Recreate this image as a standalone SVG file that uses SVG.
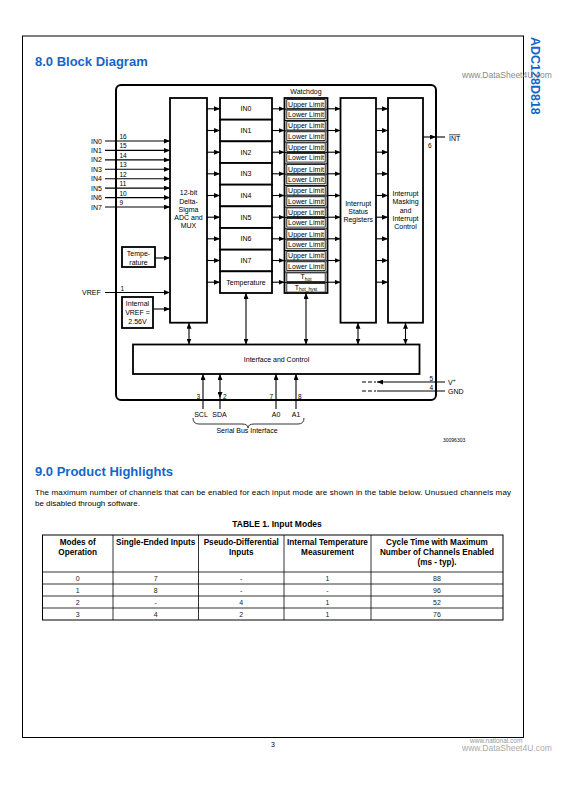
<svg xmlns="http://www.w3.org/2000/svg" width="586" height="785" viewBox="0 0 586 785">
<style>
text{font-family:"Liberation Sans",Arial,sans-serif;fill:#000}
.b{fill:#fff;stroke:#000;stroke-width:1.8}
.thin{fill:#fff;stroke:#000;stroke-width:0.8}
.c{stroke:#000;stroke-width:1.1;fill:none}
.a{marker-end:url(#ah)}
.d{marker-start:url(#ah);marker-end:url(#ah)}
.t7{font-size:7px;text-anchor:middle}
.pin{font-size:6.5px}
.lbl{font-size:7px}
.h{font-size:13px;font-weight:bold;fill:#1565c8}
.th{font-size:8.2px;font-weight:bold;text-anchor:middle}
.td{font-size:7px;text-anchor:middle;fill:#222}
.tl{stroke:#000;stroke-width:0.8}
</style>
<defs>
<marker id="ah" viewBox="0 0 6 5" refX="6" refY="2.5" markerWidth="6" markerHeight="5" markerUnits="userSpaceOnUse" orient="auto-start-reverse">
<path d="M0,0 L6,2.5 L0,5 z" fill="#000"/>
</marker>
</defs>
<rect width="586" height="785" fill="#fff"/>

<g id="page">
<rect x="22.5" y="36" width="501" height="701.5" fill="none" stroke="#000" stroke-width="1"/>
<text x="35" y="65.5" class="h">8.0 Block Diagram</text>
<text transform="translate(531,37) rotate(90)" style="font-size:12.5px;font-weight:bold;fill:#1565c8">ADC128D818</text>
<text x="462" y="78" style="font-size:8.5px;fill:#8a8a8a">www.DataSheet4U.com</text>
<text x="35" y="475.5" class="h">9.0 Product Highlights</text>
<text x="35" y="494.5" style="font-size:8px" textLength="476" lengthAdjust="spacing">The maximum number of channels that can be enabled for each input mode are shown in the table below. Unusued channels may</text>
<text x="35" y="505.5" style="font-size:8px">be disabled through software.</text>
<text x="443" y="442" style="font-size:5px">30096303</text>
<text x="273" y="747" style="font-size:7px;text-anchor:middle">3</text>
<text x="470" y="743" style="font-size:6.5px;fill:#999">www.national.com</text>
<text x="462" y="751" style="font-size:8.5px;fill:#aaa">www.DataSheet4U.com</text>
</g>

<g id="outer">
<rect x="116" y="85" width="320" height="315" rx="5" fill="none" stroke="#000" stroke-width="2"/>
</g>

<g id="adc">
<rect class="b" x="170" y="98" width="37" height="224.7"/>
<text class="t7" x="188.5" y="195.2">12-bit</text>
<text class="t7" x="188.5" y="203.5">Delta-</text>
<text class="t7" x="188.5" y="211.8">Sigma</text>
<text class="t7" x="188.5" y="220.1">ADC and</text>
<text class="t7" x="188.5" y="228.4">MUX</text>
</g>

<g id="temperature-sensor">
<rect class="b" x="122" y="247" width="33" height="20"/>
<text class="t7" x="138.5" y="255.5">Tempe-</text>
<text class="t7" x="138.5" y="264.5">rature</text>
</g>

<g id="internal-vref">
<rect class="b" x="122" y="297" width="31" height="31"/>
<text class="t7" x="137.5" y="306">Internal</text>
<text class="t7" x="137.5" y="315">VREF =</text>
<text class="t7" x="137.5" y="324">2.56V</text>
</g>

<g id="channel-registers">
<rect class="b" x="220" y="98" width="52" height="21.67"/>
<rect class="b" x="220" y="119.67" width="52" height="21.67"/>
<rect class="b" x="220" y="141.33" width="52" height="21.67"/>
<rect class="b" x="220" y="163" width="52" height="21.67"/>
<rect class="b" x="220" y="184.67" width="52" height="21.67"/>
<rect class="b" x="220" y="206.33" width="52" height="21.67"/>
<rect class="b" x="220" y="228" width="52" height="21.67"/>
<rect class="b" x="220" y="249.67" width="52" height="21.67"/>
<rect class="b" x="220" y="271.33" width="52" height="21.67"/>
<text class="t7" x="246" y="111.3">IN0</text>
<text class="t7" x="246" y="133">IN1</text>
<text class="t7" x="246" y="154.7">IN2</text>
<text class="t7" x="246" y="176.3">IN3</text>
<text class="t7" x="246" y="198">IN4</text>
<text class="t7" x="246" y="219.7">IN5</text>
<text class="t7" x="246" y="241.3">IN6</text>
<text class="t7" x="246" y="263">IN7</text>
<text class="t7" x="246" y="284.7">Temperature</text>
</g>

<g id="watchdog">
<text class="t7" x="306" y="94.3">Watchdog</text>
<rect class="b" x="284.5" y="98" width="43" height="195"/>
<g class="thin">
<rect x="286.8" y="99.6" width="38.4" height="8.7"/><rect x="286.8" y="110.1" width="38.4" height="8.7"/>
<rect x="286.8" y="121.3" width="38.4" height="8.7"/><rect x="286.8" y="131.8" width="38.4" height="8.7"/>
<rect x="286.8" y="142.9" width="38.4" height="8.7"/><rect x="286.8" y="153.4" width="38.4" height="8.7"/>
<rect x="286.8" y="164.6" width="38.4" height="8.7"/><rect x="286.8" y="175.1" width="38.4" height="8.7"/>
<rect x="286.8" y="186.3" width="38.4" height="8.7"/><rect x="286.8" y="196.8" width="38.4" height="8.7"/>
<rect x="286.8" y="207.9" width="38.4" height="8.7"/><rect x="286.8" y="218.4" width="38.4" height="8.7"/>
<rect x="286.8" y="229.6" width="38.4" height="8.7"/><rect x="286.8" y="240.1" width="38.4" height="8.7"/>
<rect x="286.8" y="251.3" width="38.4" height="8.7"/><rect x="286.8" y="261.8" width="38.4" height="8.7"/>
<rect x="286.8" y="272.9" width="38.4" height="8.7"/><rect x="286.8" y="283.4" width="38.4" height="8.7"/>
</g>
<g stroke="#000" stroke-width="0.9">
<line x1="284.5" y1="109.2" x2="327.5" y2="109.2"/><line x1="284.5" y1="120.5" x2="327.5" y2="120.5"/>
<line x1="284.5" y1="130.9" x2="327.5" y2="130.9"/><line x1="284.5" y1="142.1" x2="327.5" y2="142.1"/>
<line x1="284.5" y1="152.5" x2="327.5" y2="152.5"/><line x1="284.5" y1="163.8" x2="327.5" y2="163.8"/>
<line x1="284.5" y1="174.2" x2="327.5" y2="174.2"/><line x1="284.5" y1="185.5" x2="327.5" y2="185.5"/>
<line x1="284.5" y1="195.9" x2="327.5" y2="195.9"/><line x1="284.5" y1="207.1" x2="327.5" y2="207.1"/>
<line x1="284.5" y1="217.5" x2="327.5" y2="217.5"/><line x1="284.5" y1="228.8" x2="327.5" y2="228.8"/>
<line x1="284.5" y1="239.2" x2="327.5" y2="239.2"/><line x1="284.5" y1="250.5" x2="327.5" y2="250.5"/>
<line x1="284.5" y1="260.9" x2="327.5" y2="260.9"/><line x1="284.5" y1="272.1" x2="327.5" y2="272.1"/>
<line x1="284.5" y1="282.5" x2="327.5" y2="282.5"/>
</g>
<g class="t7">
<text x="306" y="106.5">Upper Limit</text><text x="306" y="117">Lower Limit</text>
<text x="306" y="128.2">Upper Limit</text><text x="306" y="138.7">Lower Limit</text>
<text x="306" y="149.8">Upper Limit</text><text x="306" y="160.3">Lower Limit</text>
<text x="306" y="171.5">Upper Limit</text><text x="306" y="182">Lower Limit</text>
<text x="306" y="193.2">Upper Limit</text><text x="306" y="203.7">Lower Limit</text>
<text x="306" y="214.8">Upper Limit</text><text x="306" y="225.3">Lower Limit</text>
<text x="306" y="236.5">Upper Limit</text><text x="306" y="247">Lower Limit</text>
<text x="306" y="258.2">Upper Limit</text><text x="306" y="268.7">Lower Limit</text>
<text x="306" y="279">T<tspan font-size="4.8" dy="1.5">hot</tspan></text>
<text x="306" y="289.5">T<tspan font-size="4.8" dy="1.5">hot_hyst</tspan></text>
</g>
</g>

<g id="interrupt-status">
<rect class="b" x="340.5" y="98" width="35.5" height="224.7"/>
<text class="t7" x="358.2" y="205.7">Interrupt</text>
<text class="t7" x="358.2" y="213.7">Status</text>
<text class="t7" x="358.2" y="221.7">Registers</text>
</g>

<g id="interrupt-masking">
<rect class="b" x="388" y="98" width="35" height="224.7"/>
<text class="t7" x="405.5" y="195.8">Interrupt</text>
<text class="t7" x="405.5" y="204.2">Masking</text>
<text class="t7" x="405.5" y="212.5">and</text>
<text class="t7" x="405.5" y="220.8">Interrupt</text>
<text class="t7" x="405.5" y="229.2">Control</text>
</g>

<g id="interface-control">
<rect class="b" x="133" y="344.5" width="286.5" height="29.5"/>
<text class="t7" x="276.5" y="361.8">Interface and Control</text>
</g>

<g id="pins">
<g class="lbl">
<text x="91" y="143.5">IN0</text><text x="91" y="152.9">IN1</text><text x="91" y="162.3">IN2</text><text x="91" y="171.8">IN3</text>
<text x="91" y="181.2">IN4</text><text x="91" y="190.6">IN5</text><text x="91" y="200">IN6</text><text x="91" y="209.5">IN7</text>
<text x="82" y="295">VREF</text>
<text x="449" y="140.5"><tspan style="text-decoration:overline">INT</tspan></text>
<text x="448" y="385">V<tspan font-size="5" dy="-3">+</tspan></text>
<text x="448" y="394">GND</text>
<text x="201" y="416.5" text-anchor="middle">SCL</text>
<text x="219.5" y="416.5" text-anchor="middle">SDA</text>
<text x="276" y="416.5" text-anchor="middle">A0</text>
<text x="296" y="416.5" text-anchor="middle">A1</text>
<text x="247" y="432.5" text-anchor="middle">Serial Bus Interface</text>
</g>
<g class="pin">
<text x="119.5" y="139">16</text><text x="119.5" y="148.4">15</text><text x="119.5" y="157.8">14</text><text x="119.5" y="167.3">13</text>
<text x="119.5" y="176.7">12</text><text x="119.5" y="186.1">11</text><text x="119.5" y="195.5">10</text><text x="119.5" y="205">9</text>
<text x="120.5" y="290.5">1</text>
<text x="428" y="147.5">6</text>
<text x="429.5" y="380.5">5</text>
<text x="429.5" y="389.5">4</text>
<text x="196.5" y="398.5">3</text>
<text x="223" y="398.5">2</text>
<text x="269.5" y="398.5">7</text>
<text x="298" y="398.5">8</text>
</g>
<path d="M193,418 Q193,424 199,424 L242,424 Q248,424 248,428 Q248,424 254,424 L298,424 Q304,424 304,418" fill="none" stroke="#000" stroke-width="0.8"/>
</g>

<g id="connectors">
<g class="c a">
<line x1="105" y1="141" x2="170" y2="141"/><line x1="105" y1="150.4" x2="170" y2="150.4"/>
<line x1="105" y1="159.9" x2="170" y2="159.9"/><line x1="105" y1="169.3" x2="170" y2="169.3"/>
<line x1="105" y1="178.7" x2="170" y2="178.7"/><line x1="105" y1="188.1" x2="170" y2="188.1"/>
<line x1="105" y1="197.6" x2="170" y2="197.6"/><line x1="105" y1="207" x2="170" y2="207"/>
<line x1="105" y1="292.5" x2="170" y2="292.5"/>
<line x1="155" y1="258" x2="170" y2="258"/>
<line x1="153" y1="309" x2="170" y2="309"/>
</g>
<g class="c a">
<line x1="207" y1="108.8" x2="220" y2="108.8"/><line x1="207" y1="130.5" x2="220" y2="130.5"/>
<line x1="207" y1="152.2" x2="220" y2="152.2"/><line x1="207" y1="173.8" x2="220" y2="173.8"/>
<line x1="207" y1="195.5" x2="220" y2="195.5"/><line x1="207" y1="217.2" x2="220" y2="217.2"/>
<line x1="207" y1="238.8" x2="220" y2="238.8"/><line x1="207" y1="260.5" x2="220" y2="260.5"/>
<line x1="207" y1="282.2" x2="220" y2="282.2"/>
</g>
<g class="c a">
<line x1="272" y1="108.8" x2="284.5" y2="108.8"/><line x1="272" y1="130.5" x2="284.5" y2="130.5"/>
<line x1="272" y1="152.2" x2="284.5" y2="152.2"/><line x1="272" y1="173.8" x2="284.5" y2="173.8"/>
<line x1="272" y1="195.5" x2="284.5" y2="195.5"/><line x1="272" y1="217.2" x2="284.5" y2="217.2"/>
<line x1="272" y1="238.8" x2="284.5" y2="238.8"/><line x1="272" y1="260.5" x2="284.5" y2="260.5"/>
<line x1="272" y1="282.2" x2="284.5" y2="282.2"/>
</g>
<g class="c a">
<line x1="327.5" y1="108.8" x2="340.5" y2="108.8"/><line x1="327.5" y1="130.5" x2="340.5" y2="130.5"/>
<line x1="327.5" y1="152.2" x2="340.5" y2="152.2"/><line x1="327.5" y1="173.8" x2="340.5" y2="173.8"/>
<line x1="327.5" y1="195.5" x2="340.5" y2="195.5"/><line x1="327.5" y1="217.2" x2="340.5" y2="217.2"/>
<line x1="327.5" y1="238.8" x2="340.5" y2="238.8"/><line x1="327.5" y1="260.5" x2="340.5" y2="260.5"/>
<line x1="327.5" y1="282.2" x2="340.5" y2="282.2"/>
</g>
<g class="c a">
<line x1="376" y1="108.8" x2="388" y2="108.8"/><line x1="376" y1="130.5" x2="388" y2="130.5"/>
<line x1="376" y1="152.2" x2="388" y2="152.2"/><line x1="376" y1="173.8" x2="388" y2="173.8"/>
<line x1="376" y1="195.5" x2="388" y2="195.5"/><line x1="376" y1="217.2" x2="388" y2="217.2"/>
<line x1="376" y1="238.8" x2="388" y2="238.8"/><line x1="376" y1="260.5" x2="388" y2="260.5"/>
<line x1="376" y1="282.2" x2="388" y2="282.2"/>
</g>
<line class="c a" x1="423" y1="137" x2="436" y2="137"/>
<line class="c" x1="436" y1="137" x2="445" y2="137"/>
<g class="c d">
<line x1="189" y1="322.7" x2="189" y2="344.5"/>
<line x1="246" y1="293" x2="246" y2="344.5"/>
<line x1="306" y1="293" x2="306" y2="344.5"/>
<line x1="358" y1="322.7" x2="358" y2="344.5"/>
<line x1="405.5" y1="322.7" x2="405.5" y2="344.5"/>
<line x1="220" y1="398" x2="220" y2="374"/>
</g>
<g class="c a">
<line x1="203" y1="409" x2="203" y2="374"/>
<line x1="276" y1="409" x2="276" y2="374"/>
<line x1="296" y1="409" x2="296" y2="374"/>
<line x1="445" y1="382" x2="377" y2="382"/>
</g>
<line class="c" x1="220" y1="398" x2="220" y2="409"/>
<line class="c" x1="377" y1="391" x2="445" y2="391"/>
<line class="c" x1="362" y1="382" x2="376" y2="382" stroke-dasharray="4,2"/>
<line class="c" x1="362" y1="391" x2="376" y2="391" stroke-dasharray="4,2"/>
</g>

<g id="table">
<text x="277" y="527" style="font-size:8.5px;font-weight:bold;text-anchor:middle">TABLE 1. Input Modes</text>
<rect x="42.5" y="535" width="460.5" height="85" fill="none" stroke="#000" stroke-width="1"/>
<line class="tl" x1="113" y1="535" x2="113" y2="620"/>
<line class="tl" x1="198.5" y1="535" x2="198.5" y2="620"/>
<line class="tl" x1="284" y1="535" x2="284" y2="620"/>
<line class="tl" x1="371" y1="535" x2="371" y2="620"/>
<line class="tl" x1="42.5" y1="572" x2="503" y2="572"/>
<line class="tl" x1="42.5" y1="584" x2="503" y2="584"/>
<line class="tl" x1="42.5" y1="596" x2="503" y2="596"/>
<line class="tl" x1="42.5" y1="608" x2="503" y2="608"/>
<text class="th" x="77.7" y="545">Modes of</text>
<text class="th" x="77.7" y="555">Operation</text>
<text class="th" x="155.7" y="545">Single-Ended Inputs</text>
<text class="th" x="241.2" y="545">Pseudo-Differential</text>
<text class="th" x="241.2" y="555">Inputs</text>
<text class="th" x="327.5" y="545">Internal Temperature</text>
<text class="th" x="327.5" y="555">Measurement</text>
<text class="th" x="437" y="545">Cycle Time with Maximum</text>
<text class="th" x="437" y="555">Number of Channels Enabled</text>
<text class="th" x="437" y="565">(ms - typ).</text>
<text class="td" x="77.7" y="580.5">0</text><text class="td" x="155.7" y="580.5">7</text><text class="td" x="241.2" y="580.5">-</text><text class="td" x="327.5" y="580.5">1</text><text class="td" x="437" y="580.5">88</text>
<text class="td" x="77.7" y="592.5">1</text><text class="td" x="155.7" y="592.5">8</text><text class="td" x="241.2" y="592.5">-</text><text class="td" x="327.5" y="592.5">-</text><text class="td" x="437" y="592.5">96</text>
<text class="td" x="77.7" y="604.5">2</text><text class="td" x="155.7" y="604.5">-</text><text class="td" x="241.2" y="604.5">4</text><text class="td" x="327.5" y="604.5">1</text><text class="td" x="437" y="604.5">52</text>
<text class="td" x="77.7" y="616.5">3</text><text class="td" x="155.7" y="616.5">4</text><text class="td" x="241.2" y="616.5">2</text><text class="td" x="327.5" y="616.5">1</text><text class="td" x="437" y="616.5">76</text>
</g>
</svg>
